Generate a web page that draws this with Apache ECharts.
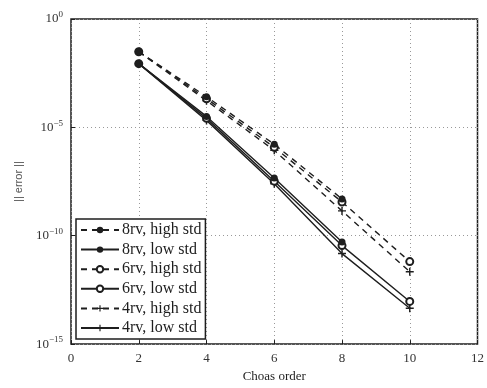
<!DOCTYPE html>
<html>
<head>
<meta charset="utf-8">
<script src="https://cdn.jsdelivr.net/npm/echarts@6/dist/echarts.min.js"></script>
<style>
  html, body { margin: 0; padding: 0; background: #fff; }
  #chart { width: 487px; height: 388px; }
</style>
</head>
<body>
<div id="chart"></div>
<script>
// Chaos order on the horizontal axis
const orders = [2, 4, 6, 8, 10];

// Error norms for each configuration
const rv8High = [3.1e-2, 2.6e-4, 1.66e-6, 5.0e-9];
const rv8Low  = [8.7e-3, 3.2e-5, 4.6e-8, 5.2e-11];
const rv6High = [3.1e-2, 2.1e-4, 1.2e-6, 3.6e-9, 6.4e-12];
const rv6Low  = [8.7e-3, 2.6e-5, 3.3e-8, 3.5e-11, 9.3e-14];
const rv4High = [3.1e-2, 1.7e-4, 8.7e-7, 1.4e-9, 2.2e-12];
const rv4Low  = [8.7e-3, 2.1e-5, 2.5e-8, 1.5e-11, 4.5e-14];

const seriesNames = [
  '8rv, high std', '8rv, low std',
  '6rv, high std', '6rv, low std',
  '4rv, high std', '4rv, low std'
];

const ink = '#1e1e1e';
const serif = '"Liberation Serif", "DejaVu Serif", serif';
const plusSymbol = 'path://M4.1,0h1.8v4.1h4.1v1.8h-4.1v4.1h-1.8v-4.1h-4.1v-1.8h4.1z';

function pairs(values) {
  return values.map((v, i) => [orders[i], v]);
}

function makeSeries(name, values, dashed, symbol, size, z) {
  return {
    name: name,
    type: 'line',
    data: pairs(values),
    symbol: symbol,
    symbolSize: size,
    showSymbol: true,
    lineStyle: { color: ink, width: 1.4, type: dashed ? [6, 5] : 'solid' },
    itemStyle: { color: ink, borderWidth: symbol === 'emptyCircle' ? 1.5 : 0 },
    emphasis: { disabled: true },
    z: z
  };
}

const chart = echarts.init(document.getElementById('chart'), null, { renderer: 'canvas' });

chart.setOption({
  animation: false,
  backgroundColor: '#fff',
  grid: {
    left: 71, right: 5, top: 19, bottom: 43,
    show: true, borderColor: ink, borderWidth: 1.5, backgroundColor: 'transparent'
  },
  legend: {
    orient: 'vertical',
    left: 76, top: 219,
    itemWidth: 38, itemHeight: 8,
    itemGap: 3.6,
    padding: [3, 4, 3, 4],
    backgroundColor: '#fff',
    borderColor: ink, borderWidth: 1.5,
    textStyle: { fontFamily: serif, fontSize: 16, color: ink, padding: [0, 0, 0, -2] },
    data: seriesNames,
    z: 10
  },
  xAxis: {
    type: 'value',
    min: 0, max: 12, interval: 2,
    name: 'Choas order',
    nameLocation: 'middle',
    nameGap: 25,
    nameTextStyle: { fontFamily: serif, fontSize: 13, color: ink },
    axisLine: { show: false },
    axisTick: { show: true, inside: true, length: 4, lineStyle: { color: ink } },
    axisLabel: { fontFamily: serif, fontSize: 13, color: '#333', margin: 8 },
    splitLine: { show: true, lineStyle: { color: '#999', type: [1, 3], width: 1 } }
  },
  yAxis: {
    type: 'log',
    logBase: 10,
    min: 1e-15, max: 1,
    interval: 5,
    name: '|| error ||',
    nameLocation: 'middle',
    nameGap: 47,
    nameRotate: 90,
    nameTextStyle: { fontFamily: '"Liberation Sans", sans-serif', fontSize: 11, color: '#555' },
    axisLine: { show: false },
    axisTick: { show: true, inside: true, length: 4, lineStyle: { color: ink } },
    axisLabel: {
      fontFamily: serif, fontSize: 13, color: '#333', margin: 8,
      formatter: function (v) {
        const e = Math.round(Math.log10(v));
        return '10{sup|' + (e < 0 ? '\u2212' + (-e) : e) + '}';
      },
      rich: {
        sup: { fontFamily: serif, fontSize: 9, color: '#333', verticalAlign: 'top', padding: [0, 0, 8, 0] }
      }
    },
    splitLine: { show: true, lineStyle: { color: '#999', type: [1, 3], width: 1 } }
  },
  series: [
    makeSeries(seriesNames[0], rv8High, true, 'circle', 7, 6),
    makeSeries(seriesNames[1], rv8Low, false, 'circle', 7, 6),
    makeSeries(seriesNames[2], rv6High, true, 'emptyCircle', 7, 5),
    makeSeries(seriesNames[3], rv6Low, false, 'emptyCircle', 7, 5),
    makeSeries(seriesNames[4], rv4High, true, plusSymbol, 8, 4),
    makeSeries(seriesNames[5], rv4Low, false, plusSymbol, 8, 4)
  ]
});
</script>
</body>
</html>
